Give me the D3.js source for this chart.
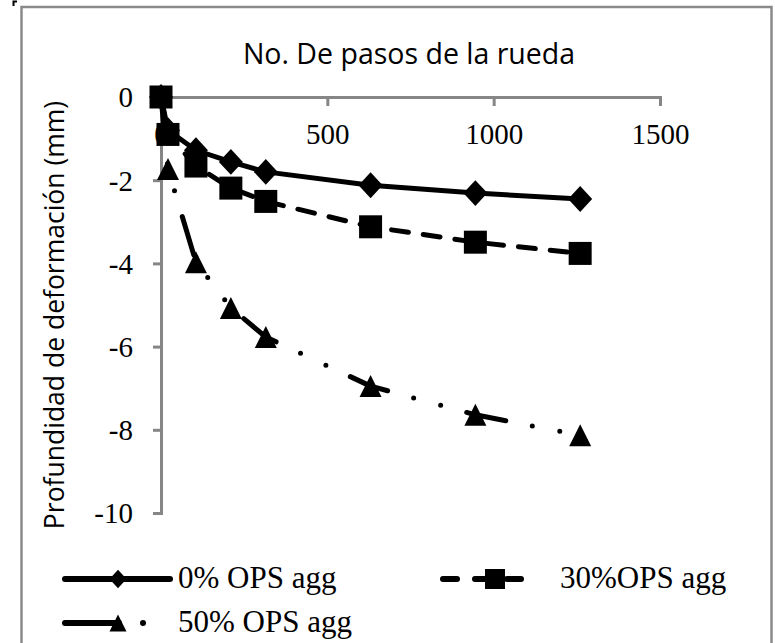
<!DOCTYPE html>
<html>
<head>
<meta charset="utf-8">
<script src="https://cdn.jsdelivr.net/npm/d3@7"></script>
<style>
  body { margin: 0; background: #fff; }
</style>
</head>
<body>
<svg id="canvas"></svg>
<script>
// wheel passes (x) and rut depth in mm (y) for each mix
let passes = [0, 21, 105, 210, 315, 630, 945, 1260];
let ops0 = [0, -0.8, -1.28, -1.56, -1.8, -2.12, -2.31, -2.45];
let ops30 = [0, -0.9, -1.66, -2.19, -2.51, -3.12, -3.49, -3.76];
let ops50 = [0, -1.73, -3.97, -5.07, -5.77, -6.95, -7.64, -8.13];

let xTicks = [0, 500, 1000, 1500];
let yTicks = [0, -2, -4, -6, -8, -10];
let seriesNames = ['0% OPS agg', '30%OPS agg', '50% OPS agg'];

let width = 775;
let height = 643;
let serif = '"Liberation Serif", "Times New Roman", serif';
let sans = '"Open Sans", sans-serif';

let svg = d3.select('#canvas')
    .attr('width', width)
    .attr('height', height);

svg.append('rect').attr('width', width).attr('height', height).attr('fill', '#fff');

// outer chart frame (runs off the bottom of the picture)
svg.append('rect')
    .attr('x', 21.5).attr('y', 7)
    .attr('width', 750).attr('height', 660)
    .attr('fill', 'none')
    .attr('stroke', '#8a8a8a')
    .attr('stroke-width', 2.5);
svg.append('path')
    .attr('d', 'M13.5,6V1.5H17')
    .attr('fill', 'none').attr('stroke', '#000').attr('stroke-width', 2);

let xScale = d3.scaleLinear().domain([0, 1500]).range([161, 660]);
let yScale = d3.scaleLinear().domain([0, -10]).range([97, 513]);

/*axes: x along the top (0 line), y on the left*/
let xAxis = d3.axisBottom(xScale)
    .tickValues(xTicks)
    .tickSize(9)
    .tickPadding(17)
    .tickFormat(d => String(d));
let yAxis = d3.axisLeft(yScale)
    .tickValues(yTicks)
    .tickSize(8)
    .tickPadding(20)
    .tickFormat(d => String(d));

let gx = svg.append('g')
    .attr('transform', 'translate(0,' + yScale(0) + ')')
    .call(xAxis);
let gy = svg.append('g')
    .attr('transform', 'translate(' + xScale(0) + ',0)')
    .call(yAxis);
[gx, gy].forEach(g => {
    g.attr('font-family', null).attr('font-size', null);
    g.selectAll('path, line').attr('stroke', '#868686').attr('stroke-width', 3);
    g.selectAll('.tick text')
        .attr('fill', '#000')
        .style('font-family', serif)
        .style('font-size', '29px');
});
gy.selectAll('.tick text').attr('dy', '0.34em');

svg.append('text')
    .attr('x', 409).attr('y', 64)
    .attr('text-anchor', 'middle')
    .style('font-family', sans)
    .style('font-size', '28.5px')
    .text('No. De pasos de la rueda');

svg.append('text')
    .attr('transform', 'translate(64,315) rotate(-90)')
    .attr('text-anchor', 'middle')
    .style('font-family', sans)
    .style('font-size', '26.5px')
    .text('Profundidad de deformación (mm)');

/*marker shapes*/
let diamond = s => 'M0,' + (-s * 1.08) + 'L' + s + ',0L0,' + (s * 1.08) + 'L' + (-s) + ',0Z';
let square = s => 'M' + (-s) + ',' + (-s) + 'H' + s + 'V' + s + 'H' + (-s) + 'Z';
let triangle = s => 'M0,' + (-s) + 'L' + s + ',' + s + 'H' + (-s) + 'Z';

let series = [
    {name: seriesNames[2], values: ops50, dash: '40,27,0,28,0,27', marker: triangle, size: 11},
    {name: seriesNames[0], values: ops0, dash: null, marker: diamond, size: 12},
    {name: seriesNames[1], values: ops30, dash: '17,15', marker: square, size: 11.5}
];

let line = d3.line()
    .x((d, i) => xScale(passes[i]))
    .y(d => yScale(d));

series.forEach(s => {
    let g = svg.append('g');
    g.append('path')
        .attr('d', line(s.values))
        .attr('fill', 'none')
        .attr('stroke', '#000')
        .attr('stroke-width', 5)
        .attr('stroke-linecap', 'round')
        .attr('stroke-linejoin', 'round')
        .attr('stroke-dasharray', s.dash);
    g.selectAll('path.mk')
        .data(s.values)
        .enter()
        .append('path')
        .attr('class', 'mk')
        .attr('d', s.marker(s.size))
        .attr('transform', (d, i) => 'translate(' + xScale(passes[i]) + ',' + yScale(d) + ')')
        .attr('fill', '#000');
});

/*legend*/
let legendItems = [
    {name: seriesNames[0], x0: 65, x1: 170, mx: 118, tx: 178, y: 579, dash: null, marker: diamond, size: 8.5},
    {name: seriesNames[1], x0: 443, x1: 534, mx: 495, tx: 560, y: 579, dash: '14,18', marker: square, size: 10},
    {name: seriesNames[2], x0: 65, x1: 150, mx: 118, tx: 178, y: 623, dash: '54,24,0,24,0,23', marker: triangle, size: 8.5}
];
let legend = svg.append('g');
legendItems.forEach(it => {
    legend.append('line')
        .attr('x1', it.x0).attr('x2', it.x1)
        .attr('y1', it.y).attr('y2', it.y)
        .attr('stroke', '#000')
        .attr('stroke-width', 6)
        .attr('stroke-linecap', 'round')
        .attr('stroke-dasharray', it.dash);
    legend.append('path')
        .attr('d', it.marker(it.size))
        .attr('transform', 'translate(' + it.mx + ',' + it.y + ')')
        .attr('fill', '#000');
    legend.append('text')
        .attr('x', it.tx)
        .attr('y', it.y + 9)
        .style('font-family', serif)
        .style('font-size', '31px')
        .text(it.name);
});
</script>
</body>
</html>
